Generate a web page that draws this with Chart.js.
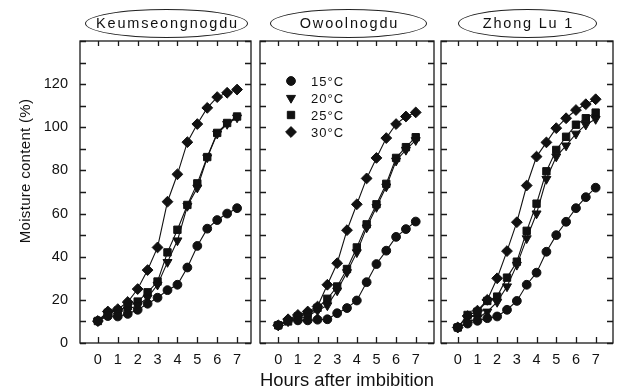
<!DOCTYPE html>
<html><head><meta charset="utf-8">
<script src="https://cdn.jsdelivr.net/npm/chart.js@4/dist/chart.umd.min.js"></script>
<style>
html,body{margin:0;padding:0;background:#fff;}
#wrap{position:relative;width:620px;height:391px;overflow:hidden;font-family:"Liberation Sans",Arial,Helvetica,sans-serif;color:#111;}
#wrap canvas{position:absolute;left:0;top:0;}
.ttl{position:absolute;top:9px;height:29px;border:1px solid #222;border-radius:50%;box-sizing:border-box;text-align:center;font-size:14.5px;letter-spacing:1.8px;padding-left:2px;line-height:27px;white-space:nowrap;}
#ytitle{position:absolute;left:-55px;top:162px;width:160px;height:18px;line-height:18px;text-align:center;font-size:15px;letter-spacing:0.3px;transform:rotate(-90deg);white-space:nowrap;}
</style>
</head><body>
<div id="wrap">
<canvas id="c1" width="620" height="391"></canvas>
<canvas id="c2" width="620" height="391"></canvas>
<canvas id="c3" width="620" height="391"></canvas>
<div class="ttl" style="left:85px;width:163px;">Keumseongnogdu</div>
<div class="ttl" style="left:270px;width:157px;">Owoolnogdu</div>
<div class="ttl" style="left:458px;width:139px;">Zhong Lu 1</div>
<div id="ytitle">Moisture content (%)</div>
</div>
<script>
// ---- data ----
const hours = [0,0.5,1,1.5,2,2.5,3,3.5,4,4.5,5,5.5,6,6.5,7];
const xTickValues = [0,1,2,3,4,5,6,7];
const yTickValues = [0,10,20,30,40,50,60,70,80,90,100,110,120,130,140];
const yLabelValues = [0,20,40,60,80,100,120];
const seriesLabels = ['15\u00B0C','20\u00B0C','25\u00B0C','30\u00B0C'];

const keum15 = [10.2,12.5,12.3,13.5,15.4,18.2,21,24.5,27,35,45,53,57,60,62.5];
const keum20 = [10.2,13,14,15.5,17.4,21,27,37.5,47.5,63.5,72,86,97,101.5,104.5];
const keum25 = [10.2,14,15,17,19.2,23.5,28.5,42,52.5,64,74,86.2,97.4,102,105];
const keum30 = [10.2,14.6,15.7,19,25,33.8,44.3,65.5,78.2,93.1,101.5,109,114,116,117.5];

const owool15 = [8.2,10.5,10.5,10.5,10.8,11,13.8,16.2,19.7,28.2,36.6,42.8,49.2,52.8,56.3];
const owool20 = [8.2,10,11,12.5,15,17.4,24.3,32.8,42,53.5,63,72.5,84.5,89.5,94];
const owool25 = [8.2,10,12.3,13.5,16.3,20.5,26.2,34.3,44.3,55,64.3,73.8,85.8,90.8,95.4];
const owool30 = [8.2,11,13,14.6,16.9,27,37,52.3,64.3,76.3,85.8,95,101.5,105,106.9];

const zhong15 = [7.2,9,10.3,11.5,12.3,15.4,19.5,27,32.6,42.3,50,56.2,62.5,67.6,72];
const zhong20 = [7.2,9.5,11.5,14.5,19,26.2,36.2,48.5,60,76,86.4,91.5,97,101.2,103.8];
const zhong25 = [7.2,13,14.5,19.5,21.5,30.3,37.7,52,64.6,79.6,89.5,95.6,101.2,104.2,106.8];
const zhong30 = [7.2,12.5,15,20,30,42.6,56,73,86.4,93,99.6,104.2,108,110.7,113];

// ---- styles ----
const FONT = '"Liberation Sans", Arial, Helvetica, sans-serif';
const INK = '#111';
const markerStyles = [
  {pointStyle:'circle', radius:4.4, rotation:0},
  {pointStyle:'triangle', radius:5.2, rotation:180},
  {pointStyle:'rect', radius:5.2, rotation:0},
  {pointStyle:'rectRot', radius:5.4, rotation:0}
];

function toXY(vals){ return hours.map((h,i)=>({x:h,y:vals[i]})); }
function makeDatasets(series){
  return series.map((vals,i)=>({
    label: seriesLabels[i],
    data: toXY(vals),
    borderColor: INK, backgroundColor: INK, borderWidth: 1.1,
    pointStyle: markerStyles[i].pointStyle,
    pointRadius: markerStyles[i].radius,
    pointRotation: markerStyles[i].rotation,
    pointBackgroundColor: INK, pointBorderColor: INK, pointBorderWidth: 1,
    tension: 0, fill: false
  }));
}

const frameTicks = {
  id:'frameTicks',
  beforeDatasetsDraw(chart){
    const {ctx, chartArea:a, scales:{x,y}} = chart;
    ctx.save();
    ctx.strokeStyle = '#1a1a1a'; ctx.lineWidth = 1.3;
    ctx.strokeRect(a.left, a.top, a.right-a.left, a.bottom-a.top);
    ctx.beginPath();
    x.ticks.forEach(t=>{
      const px = Math.round(x.getPixelForValue(t.value))+0.5;
      ctx.moveTo(px,a.bottom); ctx.lineTo(px,a.bottom-6);
      ctx.moveTo(px,a.top); ctx.lineTo(px,a.top+5);
    });
    y.ticks.forEach(t=>{
      const py = Math.round(y.getPixelForValue(t.value))+0.5;
      ctx.moveTo(a.left,py); ctx.lineTo(a.left+6,py);
      ctx.moveTo(a.right,py); ctx.lineTo(a.right-6,py);
    });
    ctx.stroke();
    ctx.restore();
  }
};

const insideLegend = {
  id:'insideLegend',
  afterDatasetsDraw(chart, args, opts){
    if(!opts || !opts.show) return;
    const ctx = chart.ctx;
    ctx.save();
    chart.data.datasets.forEach((ds,i)=>{
      const yy = opts.y0 + i*opts.dy;
      ctx.fillStyle = INK; ctx.strokeStyle = INK; ctx.lineWidth = 1;
      Chart.helpers.drawPoint(ctx, {pointStyle: ds.pointStyle, radius: ds.pointRadius, rotation: ds.pointRotation, borderWidth:1}, opts.x0, yy);
      ctx.font = '13px ' + FONT;
      try { ctx.letterSpacing = '1px'; } catch(e){}
      ctx.textBaseline = 'middle'; ctx.textAlign = 'left';
      ctx.fillText(ds.label, opts.tx, yy+1);
    });
    ctx.restore();
  }
};

function makePanel(id, series, box, cfg){
  return new Chart(document.getElementById(id), {
    type:'line',
    data:{ datasets: makeDatasets(series) },
    plugins:[frameTicks, insideLegend],
    options:{
      responsive:false, animation:false, devicePixelRatio:1,
      layout:{ padding:{ top: box.top, right: 620 - box.right, left:0, bottom:0 } },
      plugins:{
        legend:{display:false}, tooltip:{enabled:false},
        insideLegend: cfg.legend || {show:false}
      },
      scales:{
        x:{
          type:'linear', min: box.xmin, max: box.xmax,
          grid:{display:false, drawTicks:false}, border:{display:false},
          afterBuildTicks: s => { s.ticks = xTickValues.map(v=>({value:v})); },
          afterFit: s => { s.height = 391 - box.bottom; },
          ticks:{ autoSkip:false, maxRotation:0, padding:8, color:INK,
                  font:{size:14.5, family:FONT}, callback: v => String(v) },
          title:{ display: !!cfg.xTitle, text: cfg.xTitle || '', color:INK,
                  font:{size:18.5, family:FONT}, padding:{top:0, bottom:-1} }
        },
        y:{
          type:'linear', min:0, max:140,
          grid:{display:false, drawTicks:false}, border:{display:false},
          afterBuildTicks: s => { s.ticks = yTickValues.map(v=>({value:v})); },
          afterFit: s => { s.width = box.left; },
          ticks:{ display: !!cfg.yLabels, padding:12, color:INK, autoSkip:false,
                  font:{size:14.5, family:FONT},
                  callback: v => yLabelValues.includes(v) ? String(v) : '' }
        }
      }
    }
  });
}

makePanel('c1', [keum15,keum20,keum25,keum30], {left:80, right:251, top:41, bottom:343, xmin:-0.9, xmax:7.7}, {yLabels:true});
makePanel('c2', [owool15,owool20,owool25,owool30], {left:260, right:434, top:41, bottom:343, xmin:-0.93, xmax:7.93},
  {xTitle:'Hours after imbibition', legend:{show:true, x0:291, tx:311, y0:81, dy:17}});
makePanel('c3', [zhong15,zhong20,zhong25,zhong30], {left:441, right:613, top:41, bottom:343, xmin:-0.85, xmax:7.88}, {});
</script>
</body></html>
